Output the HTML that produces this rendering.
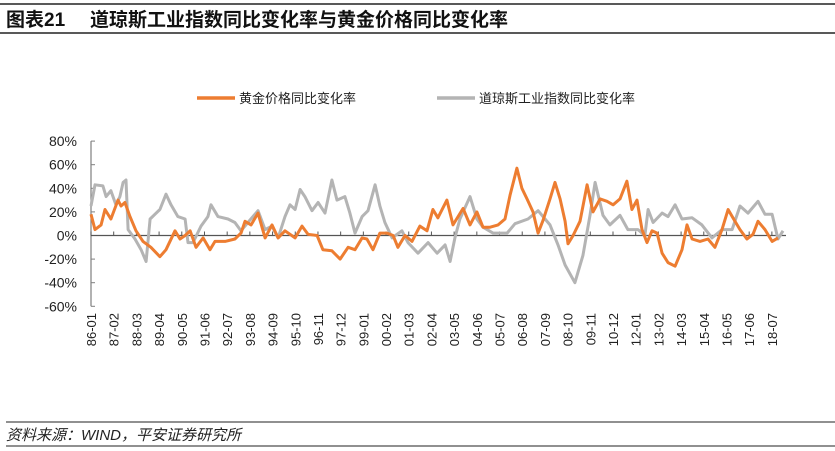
<!DOCTYPE html>
<html><head><meta charset="utf-8">
<style>
body{margin:0;background:#fff;width:835px;height:451px;overflow:hidden;font-family:"Liberation Sans","Noto Sans CJK SC",sans-serif;}
svg{display:block}
</style></head>
<body>
<svg width="835" height="451" xmlns="http://www.w3.org/2000/svg">
<line x1="0" y1="4" x2="835" y2="4" stroke="#222" stroke-width="1.5"/>
<text x="6" y="26" font-size="19" font-weight="bold" fill="#111" font-family="'Liberation Sans','Noto Sans CJK SC',sans-serif">图表21</text>
<text x="90" y="26" font-size="19" font-weight="bold" fill="#111" font-family="'Liberation Sans','Noto Sans CJK SC',sans-serif">道琼斯工业指数同比变化率与黄金价格同比变化率</text>
<line x1="0" y1="33" x2="835" y2="33" stroke="#222" stroke-width="1.5"/>

<g font-size="13" fill="#222" font-family="'Liberation Sans','Noto Sans CJK SC',sans-serif">
<g>
<line x1="197" y1="98" x2="235" y2="98" stroke="#ED7D31" stroke-width="3.5"/>
<text x="239" y="103">黄金价格同比变化率</text>
</g>
<g>
<line x1="437" y1="98" x2="475" y2="98" stroke="#B4B4B4" stroke-width="3.5"/>
<text x="479" y="103">道琼斯工业指数同比变化率</text>
</g>
</g>

<g id="plot"></g>

<line x1="6" y1="422" x2="835" y2="422" stroke="#222" stroke-width="1"/>
<text x="6" y="440" font-size="15" font-style="italic" fill="#222" font-family="'Liberation Sans','Noto Sans CJK SC',sans-serif">资料来源：WIND，平安证券研究所</text>
<line x1="6" y1="446" x2="835" y2="446" stroke="#222" stroke-width="1"/>
</svg>
<script>
const yTicks = [80, 60, 40, 20, 0, -20, -40, -60];
const xLabels = ["86-01","87-02","88-03","89-04","90-05","91-06","92-07","93-08","94-09","95-10","96-11","97-12","99-01","00-02","01-03","02-04","03-05","04-06","05-07","06-08","07-09","08-10","09-11","10-12","12-01","13-02","14-03","15-04","16-05","17-06","18-07"];
const dowTime = [1986.00,1986.19,1986.57,1986.72,1986.95,1987.19,1987.38,1987.53,1987.67,1987.77,1988.10,1988.39,1988.63,1988.82,1989.05,1989.29,1989.58,1989.82,1990.15,1990.49,1990.63,1990.87,1991.25,1991.58,1991.73,1992.06,1992.54,1992.87,1993.16,1993.49,1993.97,1994.31,1994.64,1994.93,1995.26,1995.50,1995.74,1995.98,1996.21,1996.55,1996.84,1997.17,1997.50,1997.74,1998.12,1998.36,1998.60,1998.94,1999.22,1999.56,1999.79,2000.03,2000.37,2000.84,2001.13,2001.61,2002.09,2002.52,2002.90,2003.14,2003.37,2003.61,2004.09,2004.42,2004.71,2005.19,2005.86,2006.24,2006.86,2007.34,2007.91,2008.29,2008.63,2009.10,2009.48,2009.82,2010.06,2010.44,2010.77,2011.25,2011.63,2012.11,2012.44,2012.59,2012.83,2013.26,2013.54,2013.88,2014.21,2014.69,2015.16,2015.64,2016.12,2016.60,2016.98,2017.36,2017.84,2018.17,2018.51,2018.79,2019.03];
const dowValues = [25,43,42,33,38,26,33,45,47,5,-3,-12,-22,14,18,22,35,26,16,14,-6,-6,8,16,26,16,14,11,4,11,21,5,8,-2,16,26,22,39,33,21,28,19,47,30,33,19,2,16,21,43,25,11,-2,4,-6,-15,-6,-15,-8,-22,-2,14,33,14,7,2,2,10,14,21,9,-8,-25,-40,-17,17,45,17,9,17,5,5,0,22,11,19,16,26,14,15,9,-2,5,5,25,19,29,18,18,-3,4];
const goldTime = [1986.00,1986.19,1986.48,1986.67,1986.95,1987.29,1987.43,1987.62,1987.86,1988.15,1988.48,1988.86,1989.29,1989.58,1990.01,1990.25,1990.49,1990.73,1991.01,1991.35,1991.68,1991.92,1992.40,1992.87,1993.16,1993.35,1993.64,1993.97,1994.31,1994.64,1994.93,1995.26,1995.74,1996.07,1996.36,1996.79,1997.07,1997.50,1997.89,1998.27,1998.60,1998.94,1999.17,1999.46,1999.79,2000.13,2000.42,2000.65,2000.99,2001.32,2001.70,2002.04,2002.32,2002.56,2002.99,2003.28,2003.76,2004.09,2004.42,2004.71,2005.05,2005.43,2005.76,2006.00,2006.33,2006.57,2006.81,2007.10,2007.34,2007.58,2007.91,2008.15,2008.39,2008.63,2008.77,2009.01,2009.34,2009.68,2009.96,2010.30,2010.63,2010.92,2011.25,2011.58,2011.82,2012.06,2012.30,2012.54,2012.78,2013.02,2013.26,2013.54,2013.88,2014.21,2014.45,2014.69,2015.07,2015.45,2015.78,2016.12,2016.41,2016.64,2016.98,2017.31,2017.60,2017.84,2018.17,2018.51,2018.79];
const goldValues = [18,5,9,22,14,30,25,28,16,4,-5,-10,-18,-12,4,-3,0,4,-10,-2,-12,-5,-5,-3,2,12,9,19,-2,9,-2,4,-2,8,1,0,-12,-13,-20,-10,-12,-2,-3,-12,2,2,0,-10,0,-5,8,4,22,15,30,9,23,9,20,7,7,9,14,34,57,40,31,20,2,13,31,45,31,12,-7,0,12,43,20,31,29,26,31,46,22,30,5,-6,4,2,-15,-23,-26,-12,9,-3,-5,-3,-10,5,22,15,5,-3,1,12,5,-5,-2];

const X0 = 91, PX_PER_YEAR = 20.95, Y0 = 235.5, PX_PER_PCT = 1.18;
const xScale = t => X0 + (t - 1986) * PX_PER_YEAR;
const yScale = v => Y0 - v * PX_PER_PCT;
const NS = "http://www.w3.org/2000/svg";
const plot = document.getElementById("plot");
function mk(tag, attrs) { const e = document.createElementNS(NS, tag); for (const k in attrs) e.setAttribute(k, attrs[k]); return e; }

const yAxis = mk("line", {x1: X0, y1: yScale(80), x2: X0, y2: yScale(-60), stroke: "#7f7f7f", "stroke-width": 1.2});


plot.appendChild(yAxis);
yTicks.forEach(v => {
  const tk = mk("line", {x1: X0, y1: yScale(v), x2: X0 + 4, y2: yScale(v), stroke: "#7f7f7f", "stroke-width": 1});
  
  
  plot.appendChild(tk);
  const tx = mk("text", {x: 77, y: yScale(v) + 5, "text-anchor": "end", "font-size": 14, fill: "#222", "font-family": "'Liberation Sans',sans-serif"});
  tx.textContent = v + "%";
  
  
  plot.appendChild(tx);
});
const xAxis = mk("line", {x1: X0, y1: yScale(0), x2: 786, y2: yScale(0), stroke: "#555", "stroke-width": 1.2});


plot.appendChild(xAxis);
const LABEL_STEP = 13 / 12;
xLabels.forEach((lab, i) => {
  const t = 1986 + i * LABEL_STEP;
  const x = xScale(t);
  const tk = mk("line", {x1: x, y1: yScale(0), x2: x, y2: yScale(0) - 4, stroke: "#555", "stroke-width": 1});
  
  
  plot.appendChild(tk);
  const tx = mk("text", {x: 0, y: 0, "text-anchor": "end", "font-size": 13, fill: "#222", "font-family": "'Liberation Sans',sans-serif", transform: `translate(${x + 5},313) rotate(-90)`});
  tx.textContent = lab;
  
  
  plot.appendChild(tx);
});
function pathFor(ts, vs) { return ts.map((t, i) => (i ? "L" : "M") + xScale(t).toFixed(1) + "," + yScale(vs[i]).toFixed(1)).join(""); }
const dowLine = mk("path", {d: pathFor(dowTime, dowValues), fill: "none", stroke: "#B4B4B4", "stroke-width": 3, "stroke-linejoin": "round"});


plot.appendChild(dowLine);
const goldLine = mk("path", {d: pathFor(goldTime, goldValues), fill: "none", stroke: "#ED7D31", "stroke-width": 3, "stroke-linejoin": "round"});


plot.appendChild(goldLine);
</script>
</body></html>
